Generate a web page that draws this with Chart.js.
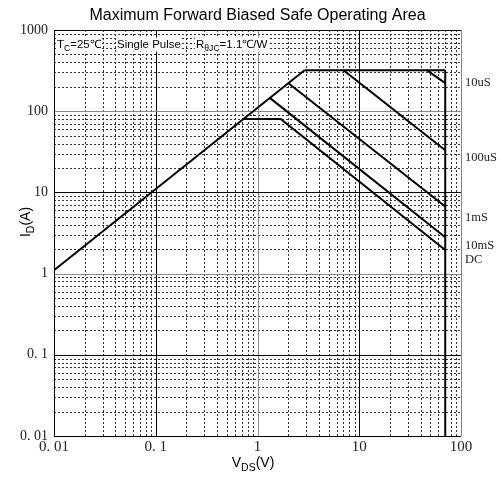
<!DOCTYPE html>
<html>
<head>
<meta charset="utf-8">
<script src="https://cdn.jsdelivr.net/npm/chart.js@4/dist/chart.umd.min.js"></script>
<style>
html, body { margin: 0; padding: 0; background: #fff; }
#wrap { width: 502px; height: 477px; }
</style>
</head>
<body>
<div id="wrap"><canvas id="soaChart" width="502" height="477"></canvas></div>
<script>
// SOA curves (V_DS in volts, I_D in amps)
const onLimitV = [0.01, 2.9];
const onLimitI = [1.1, 320];
const pulseMaxV = [2.9, 70];
const pulseMaxI = [320, 320];
const bvLimitV = [70, 70];
const bvLimitI = [320, 0.01];
const t10usV = [46, 70];
const t10usI = [320, 222];
const t100usV = [7, 70];
const t100usI = [320, 33];
const t1msV = [2.0, 70];
const t1msI = [222, 6.7];
const t10msV = [1.33, 70];
const t10msI = [145, 2.8];
const dcV = [0.72, 1.69, 70];
const dcI = [80, 80, 1.95];

const curveLabels = ['10uS', '100uS', '1mS', '10mS', 'DC'];
const xTicks = [0.01, 0.1, 1, 10, 100];
const xTickLabels = ['0. 01', '0. 1', '1', '10', '100'];
const yTicks = [0.01, 0.1, 1, 10, 100, 1000];
const yTickLabels = ['0. 01', '0. 1', '1', '10', '100', '1000'];

function pts(xs, ys) {
    return xs.map((x, i) => ({ x: x, y: ys[i] }));
}

function curve(xs, ys) {
    return {
        data: pts(xs, ys),
        showLine: true,
        borderColor: '#000',
        borderWidth: 2,
        pointRadius: 0,
        tension: 0,
        fill: false
    };
}

// text with subscripts: parts = [[text, isSub], ...]
function drawRich(ctx, parts, x, y, size, family) {
    let cx = x;
    parts.forEach(p => {
        const s = p[1] ? size * 0.75 : size;
        ctx.font = s + 'px ' + family;
        ctx.fillText(p[0], cx, p[1] ? y + size * 0.3 : y);
        cx += ctx.measureText(p[0]).width;
    });
    return cx - x;
}

function richWidth(ctx, parts, size, family) {
    let w = 0;
    parts.forEach(p => {
        ctx.font = (p[1] ? size * 0.75 : size) + 'px ' + family;
        w += ctx.measureText(p[0]).width;
    });
    return w;
}

const gridPlugin = {
    id: 'soaGrid',
    beforeDatasetsDraw(chart) {
        const ctx = chart.ctx;
        const a = chart.chartArea;
        const xs = chart.scales.x, ys = chart.scales.y;
        ctx.save();
        // minor dotted lines (2..9 of each decade)
        ctx.strokeStyle = '#333';
        ctx.lineWidth = 1;
        ctx.setLineDash([2, 2]);
        for (let e = -2; e < 2; e++) {
            for (let m = 2; m < 10; m++) {
                const px = Math.round(xs.getPixelForValue(m * Math.pow(10, e))) + 0.5;
                ctx.beginPath(); ctx.moveTo(px, a.top); ctx.lineTo(px, a.bottom); ctx.stroke();
            }
        }
        for (let e = -2; e < 3; e++) {
            for (let m = 2; m < 10; m++) {
                const py = Math.round(ys.getPixelForValue(m * Math.pow(10, e))) + 0.5;
                ctx.beginPath(); ctx.moveTo(a.left, py); ctx.lineTo(a.right, py); ctx.stroke();
            }
        }
        ctx.setLineDash([]);
        // decade lines
        const xMajorCol = ['#000', '#000', '#888', '#000', '#888'];
        xTicks.forEach((v, i) => {
            const px = Math.round(xs.getPixelForValue(v)) + 0.5;
            ctx.strokeStyle = xMajorCol[i];
            ctx.beginPath(); ctx.moveTo(px, a.top); ctx.lineTo(px, a.bottom); ctx.stroke();
        });
        const yMajorCol = ['#000', '#000', '#888', '#000', '#888', '#000'];
        yTicks.forEach((v, i) => {
            const py = Math.round(ys.getPixelForValue(v)) + 0.5;
            ctx.strokeStyle = yMajorCol[i];
            ctx.beginPath(); ctx.moveTo(a.left, py); ctx.lineTo(a.right, py); ctx.stroke();
        });

        // condition note in the top-left corner
        const fam = '"Liberation Sans", Arial, sans-serif';
        const size = 11.5;
        const base = 47.5;
        const notes = [
            [[['T', false], ['C', true], ['=25\u2103', false]], 57],
            [[['Single Pulse', false]], 117],
            [[['R', false], ['\u03b8JC', true], ['=1.1\u2103/W', false]], 196]
        ];
        notes.forEach(n => {
            const w = richWidth(ctx, n[0], size, fam);
            ctx.fillStyle = '#fff';
            ctx.fillRect(n[1] - 1, base - 10, w + 2, 14);
        });
        ctx.fillStyle = '#000';
        ctx.textBaseline = 'alphabetic';
        ctx.textAlign = 'left';
        notes.forEach(n => drawRich(ctx, n[0], n[1], base, size, fam));
        ctx.restore();
    },
    afterDatasetsDraw(chart) {
        const ctx = chart.ctx;
        const a = chart.chartArea;
        const ys = chart.scales.y;
        ctx.save();
        // left and bottom frame
        ctx.strokeStyle = '#000';
        ctx.lineWidth = 1;
        ctx.beginPath();
        ctx.moveTo(a.left + 0.5, a.top); ctx.lineTo(a.left + 0.5, a.bottom + 0.5); ctx.lineTo(a.right, a.bottom + 0.5);
        ctx.stroke();

        // curve names on the right side
        const labelAt = [222, 27, 4.9, 2.2, 1.5];
        ctx.fillStyle = '#222';
        ctx.font = '12.5px "Liberation Serif", "Times New Roman", serif';
        ctx.textBaseline = 'middle';
        ctx.textAlign = 'left';
        curveLabels.forEach((t, i) => {
            ctx.fillText(t, a.right + 4, ys.getPixelForValue(labelAt[i]));
        });

        // title
        ctx.fillStyle = '#000';
        ctx.textAlign = 'center';
        ctx.textBaseline = 'alphabetic';
        ctx.font = '16px "Liberation Sans", Arial, sans-serif';
        ctx.fillText('Maximum Forward Biased Safe Operating Area', (a.left + a.right) / 2, 20);

        // axis titles with subscripts
        const fam = '"Liberation Sans", Arial, sans-serif';
        const xt = [['V', false], ['DS', true], ['(V)', false]];
        const xw = richWidth(ctx, xt, 14, fam);
        ctx.textAlign = 'left';
        drawRich(ctx, xt, 253 - xw / 2, 467, 14, fam);

        const yt = [['I', false], ['D', true], ['(A)', false]];
        const yw = richWidth(ctx, yt, 14, fam);
        ctx.translate(30, 222);
        ctx.rotate(-Math.PI / 2);
        drawRich(ctx, yt, -yw / 2, 0, 14, fam);
        ctx.restore();
    }
};

const ctx = document.getElementById('soaChart').getContext('2d');
const soaChart = new Chart(ctx, {
    type: 'scatter',
    data: {
        datasets: [
            curve(onLimitV, onLimitI),
            curve(pulseMaxV, pulseMaxI),
            curve(bvLimitV, bvLimitI),
            curve(t10usV, t10usI),
            curve(t100usV, t100usI),
            curve(t1msV, t1msI),
            curve(t10msV, t10msI),
            curve(dcV, dcI)
        ]
    },
    options: {
        responsive: false,
        animation: false,
        devicePixelRatio: 1,
        layout: { padding: { top: 30, right: 41, left: 0, bottom: 0 } },
        plugins: {
            legend: { display: false },
            tooltip: { enabled: false }
        },
        scales: {
            x: {
                type: 'logarithmic',
                min: 0.01,
                max: 100,
                grid: { display: false, drawTicks: false },
                border: { display: false },
                afterBuildTicks: scale => { scale.ticks = xTicks.map(v => ({ value: v })); },
                afterFit: scale => { scale.height = 41; },
                ticks: {
                    autoSkip: false,
                    maxRotation: 0,
                    padding: 4,
                    color: '#222',
                    font: { family: '"Liberation Serif", "Times New Roman", serif', size: 15, lineHeight: 1 },
                    callback: (v, i) => xTickLabels[i]
                }
            },
            y: {
                type: 'logarithmic',
                min: 0.01,
                max: 1000,
                grid: { display: false, drawTicks: false },
                border: { display: false },
                afterBuildTicks: scale => { scale.ticks = yTicks.map(v => ({ value: v })); },
                afterFit: scale => { scale.width = 54; },
                ticks: {
                    autoSkip: false,
                    padding: 6,
                    color: '#222',
                    font: { family: '"Liberation Serif", "Times New Roman", serif', size: 14 },
                    callback: (v, i) => yTickLabels[i]
                }
            }
        }
    },
    plugins: [gridPlugin]
});
</script>
</body>
</html>
